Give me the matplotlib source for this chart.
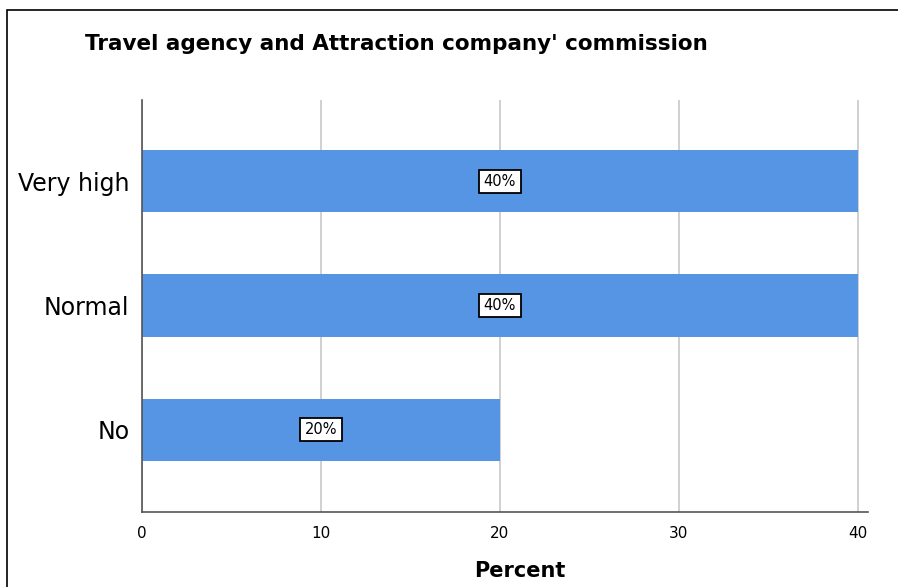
import matplotlib.pyplot as plt
from matplotlib.patches import Rectangle

categories = ["No", "Normal", "Very high"]
percents = [20, 40, 40]
xticks = [0, 10, 20, 30, 40]

bar_color = "#5595e3"

fig = plt.figure(figsize=(8.98, 5.87), dpi=100)
ax = fig.add_axes([142/898, 1-512/587, (868-142)/898, (512-100)/587])

# outer frame (cropped on the right and bottom)
fig.patches.append(Rectangle((7/898, -0.1), 1.0, 1-10/587+0.1, transform=fig.transFigure,
                             fill=False, edgecolor="black", linewidth=1.2))

ypos = list(range(len(categories)))
ax.barh(ypos, percents, height=0.5, color=bar_color, zorder=2)

for y, v in zip(ypos, percents):
    ax.text(v/2, y, f"{v}%", ha="center", va="center", fontsize=10.5, zorder=3,
            bbox=dict(boxstyle="square,pad=0.3", facecolor="white", edgecolor="black", linewidth=1.3))

ax.set_xlim(0, 40.56)
ax.set_ylim(-0.665, 2.657)
ax.set_xticks(xticks)
ax.set_yticks(ypos)
ax.set_yticklabels(categories, fontsize=17)
ax.tick_params(axis="x", labelsize=11, length=0, pad=10)
ax.tick_params(axis="y", length=0, pad=9)
ax.grid(axis="x", color="#c8c8c8", linewidth=1.2, zorder=0)
ax.set_axisbelow(True)

for s in ["top", "right"]:
    ax.spines[s].set_visible(False)
ax.spines["left"].set_color("#555555")
ax.spines["bottom"].set_color("#555555")
ax.spines["left"].set_linewidth(1.2)
ax.spines["bottom"].set_linewidth(1.2)

ax.set_xlabel("Percent", fontsize=15, fontweight="bold")
ax.xaxis.set_label_coords((520-142)/726, -(561-512)/412)
fig.text(85/898, 1-44/587, "Travel agency and Attraction company' commission",
         fontsize=15.5, fontweight="bold", ha="left", va="center")

fig.savefig("out.png", dpi=100)
